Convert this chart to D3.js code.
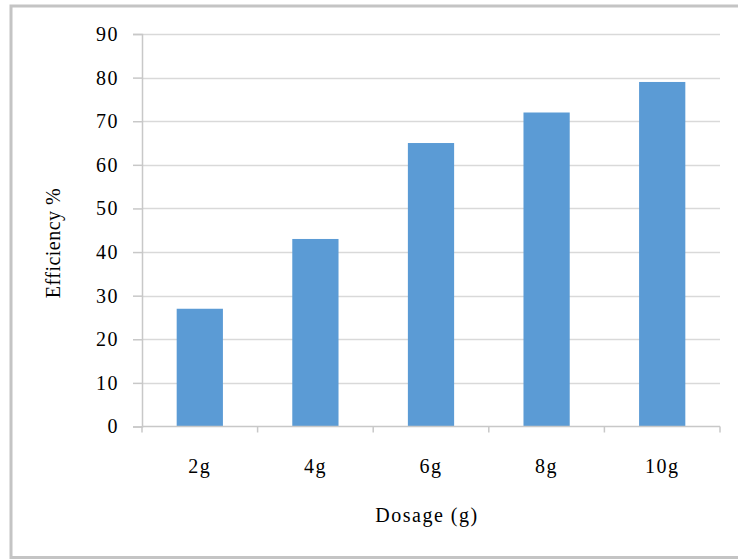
<!DOCTYPE html>
<html><head><meta charset="utf-8">
<script src="https://cdn.jsdelivr.net/npm/d3@7"></script>
<style>body{margin:0;background:#fff}svg{display:block}</style>
</head><body>
<script>
const categories = ["2g","4g","6g","8g","10g"];
const values = [27,43,65,72,79];
const yTicks = [0,10,20,30,40,50,60,70,80,90];
const xTitle = "Dosage (g)";
const yTitle = "Efficiency %";

const W=738,H=559;
const svg=d3.select("body").append("svg").attr("width",W).attr("height",H);
// outer frame
svg.append("rect").attr("x",11).attr("y",6).attr("width",W+10).attr("height",551.5)
  .attr("fill","none").attr("stroke","#c4c4c4").attr("stroke-width",3);

const m={l:142,r:720,t:34,b:426.5};
const x=d3.scaleBand().domain(categories).range([m.l,m.r]).paddingInner(0.6).paddingOuter(0.3);
const y=d3.scaleLinear().domain([0,90]).range([m.b,m.t]);
const font="'Liberation Serif','Times New Roman',serif";
const fs=20, ls="1.5px";

// gridlines
svg.append("g").selectAll("line").data(yTicks.filter(d=>d>0)).join("line")
  .attr("x1",m.l).attr("x2",m.r).attr("y1",d=>Math.round(y(d))+0.5).attr("y2",d=>Math.round(y(d))+0.5)
  .attr("stroke","#d9d9d9").attr("stroke-width",1.5);

// bars
svg.append("g").selectAll("rect").data(values).join("rect")
  .attr("x",(d,i)=>x(categories[i])).attr("width",x.bandwidth())
  .attr("y",d=>y(d)).attr("height",d=>y(0)-y(d)).attr("fill","#5b9bd5");

// y axis
const ya=svg.append("g").attr("transform",`translate(${m.l},0)`)
  .call(d3.axisLeft(y).tickValues(yTicks).tickSize(9).tickPadding(14));
ya.select(".domain").attr("stroke","#c8c8c8").attr("stroke-width",1.5);
ya.selectAll(".tick line").attr("stroke","#c8c8c8").attr("stroke-width",1.5);
ya.selectAll("text").attr("font-family",font).attr("font-size",fs).attr("fill","#000")
  .attr("letter-spacing",ls);

// x axis
const xb=d3.scaleLinear().domain([0,5]).range([m.l,m.r]);
const xa=svg.append("g").attr("transform",`translate(0,${m.b})`);
xa.append("line").attr("x1",m.l).attr("x2",m.r).attr("stroke","#c8c8c8").attr("stroke-width",1.5);
xa.selectAll(".tk").data(d3.range(6)).join("line").attr("class","tk")
  .attr("x1",d=>xb(d)).attr("x2",d=>xb(d)).attr("y1",0).attr("y2",6)
  .attr("stroke","#c8c8c8").attr("stroke-width",1.5);
xa.selectAll("text").data(categories).join("text")
  .attr("x",d=>x(d)+x.bandwidth()/2).attr("y",46).attr("text-anchor","middle")
  .attr("font-family",font).attr("font-size",fs).attr("letter-spacing",ls).text(d=>d);

// titles
svg.append("text").attr("x",(m.l+m.r)/2-4).attr("y",522).attr("text-anchor","middle")
  .attr("font-family",font).attr("font-size",fs).attr("letter-spacing",ls).text(xTitle);
svg.append("text").attr("transform","translate(60,243) rotate(-90)").attr("text-anchor","middle")
  .attr("font-family",font).attr("font-size",fs).attr("letter-spacing","0.5px").text(yTitle);
</script>
</body></html>
